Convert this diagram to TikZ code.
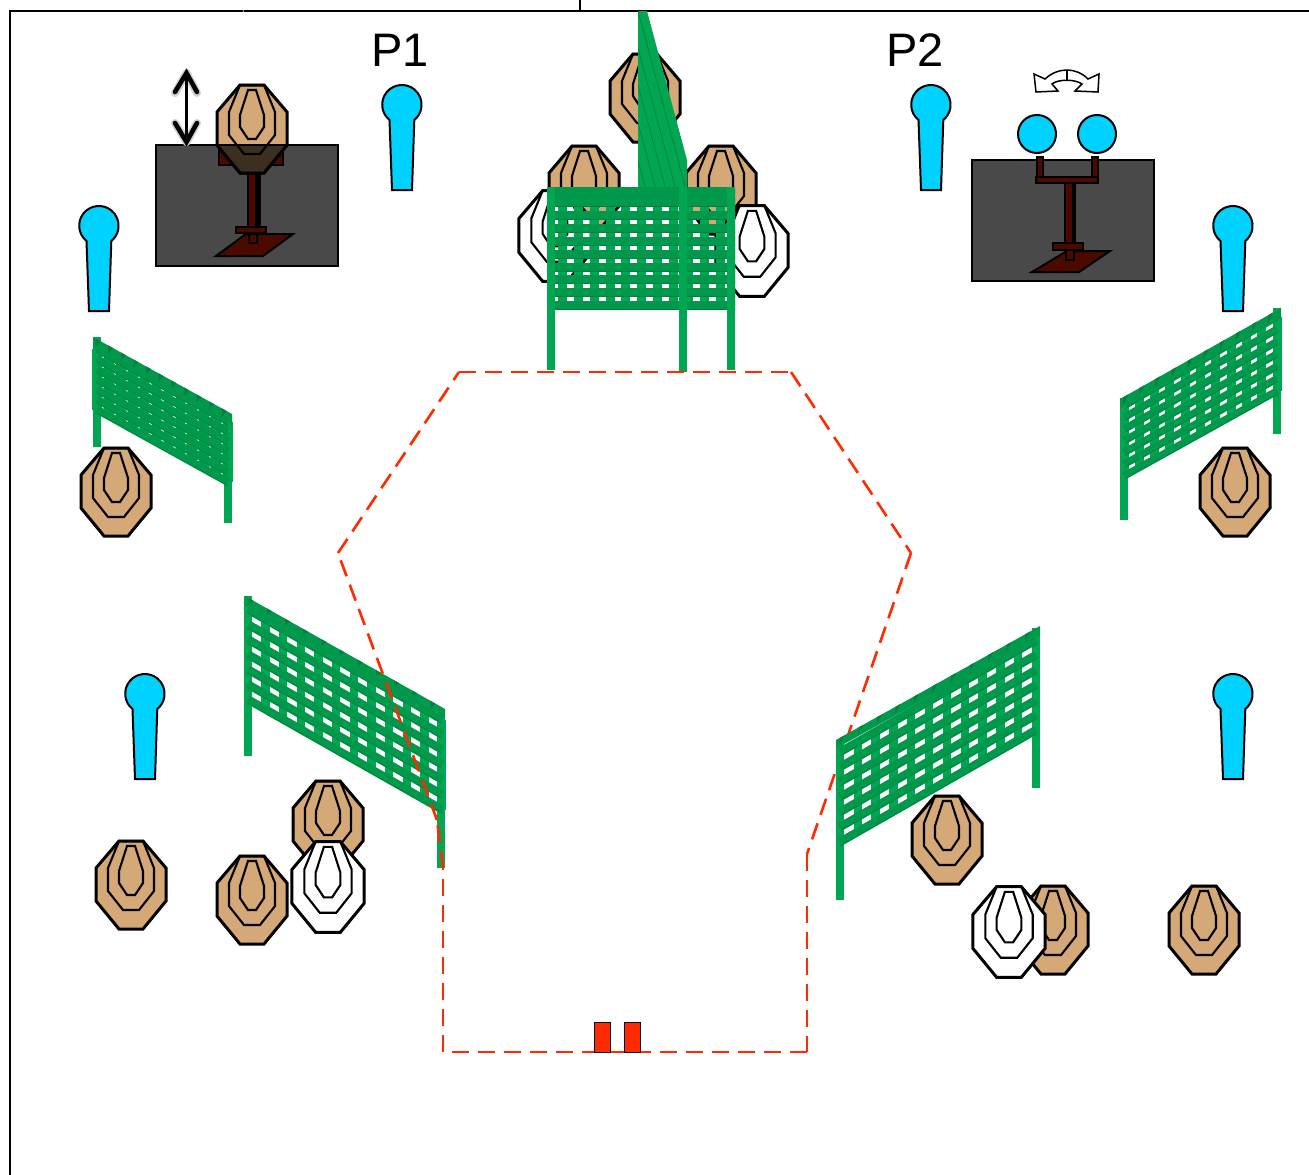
\documentclass[tikz,border=0pt]{standalone}
\usepackage{fontspec}
\setmainfont{Liberation Sans}
\usetikzlibrary{calc,arrows.meta}
\definecolor{tan1}{HTML}{D4A977}
\definecolor{cyan1}{HTML}{00D2FF}
\definecolor{fenceA}{HTML}{00A651}
\definecolor{fenceB}{HTML}{00984A}
\definecolor{fenceD}{HTML}{00813E}
\definecolor{dash1}{HTML}{FF2A00}
\definecolor{box1}{HTML}{494949}
\definecolor{stand1}{HTML}{4A0A00}
\tikzset{
  ring/.style={draw=black,line join=miter},
  popper/.style={draw=black,line width=2pt,fill=cyan1},
  standpart/.style={draw=black,line width=2pt,fill=stand1},
  hbar/.style={draw=fenceB,line cap=butt},
  vbar/.style={draw=fenceA,line cap=butt},
  leg/.style={draw=fenceA,line cap=butt,line width=8.5pt},
  zone/.style={draw=dash1,line width=2.6pt,dash pattern=on 17pt off 9pt},
}
% target: cx, cy, fill, scale
\newcommand{\targetpic}[4]{%
\begin{scope}[shift={(#1,#2)},x=#4pt,y=-#4pt]
\filldraw[ring,line width=3pt,fill=#3] (-12,-44)--(12,-44)--(35,-17)--(35,16)--(12,44)--(-12,44)--(-35,16)--(-35,-17)--cycle;
\draw[ring,line width=2.1pt] (-12,-44)--(12,-44)--(23,-17)--(23,6)--(8,25)--(-8,25)--(-23,6)--(-23,-17)--cycle;
\draw[ring,line width=2.1pt] (-4,-39)--(4,-39)--(12,-14)--(12,-2)--(4,10)--(-4,10)--(-12,-2)--(-12,-14)--cycle;
\end{scope}}
% popper: cx, top of head, bottom
\newcommand{\popperpic}[3]{%
\filldraw[popper] ({#1-12.5},{#2+35}) arc[start angle=129,end angle=411,radius=19.7] -- ({#1+10},#3) -- ({#1-10},#3) -- cycle;}
% fence: TL TR BL BR rows cols hbarwidth vbarwidth
\newcommand{\fencepic}[8]{%
\coordinate (fTL) at (#1); \coordinate (fTR) at (#2);
\coordinate (fBL) at (#3); \coordinate (fBR) at (#4);
\foreach \i in {0,...,#6}{
  \pgfmathsetmacro{\t}{\i/#6}
  \draw[vbar,line width=#8pt] ($(fTL)!\t!(fTR)$) -- ($(fBL)!\t!(fBR)$);}
\foreach \i in {0,...,#5}{
  \pgfmathsetmacro{\t}{\i/#5}
  \draw[hbar,line width=#7pt] ($(fTL)!\t!(fBL)$) -- ($(fTR)!\t!(fBR)$);
  \draw[draw=fenceD,line width=0.5pt,line cap=butt,transform canvas={yshift=-#7pt*0.45}] ($(fTL)!\t!(fBL)$) -- ($(fTR)!\t!(fBR)$);}
}
% top band of a slanted fence with small corner wedges: Ax Ay Bx By depth cols
\newcommand{\fencetop}[6]{%
\fill[fenceB] (#1,#2)--(#3,#4)--(#3,{#4+#5})--(#1,{#2+#5})--cycle;
\pgfmathsetmacro{\sl}{(#4-#2)/(#3-#1)}
\pgfmathtruncatemacro{\lastc}{#6-1}
\foreach \i in {0,...,\lastc}{
  \pgfmathsetmacro{\px}{#1+(\i+0.2)*(#3-#1)/#6}
  \pgfmathsetmacro{\py}{#2+(\i+0.2)*(#4-#2)/#6}
  \fill[fenceD] (\px,\py)--(\px,{\py+#5*0.8})--({\px+5},{\py+5*\sl})--cycle;}
}
\begin{document}
\begin{tikzpicture}[x=1pt,y=-1pt]
\useasboundingbox (0,0) rectangle (1309,1175);
% frame
\draw[black,line width=2.4pt] (10,1175)--(10,11)--(1309,11);
\draw[black,line width=1.8pt] (580,0)--(580,11);
\draw[black!40,line width=1pt] (243,10)--(243,12);
% labels
\node[font=\fontsize{47}{47}\selectfont,inner sep=0pt] (p1) at (400,50) {P1};
\node[font=\fontsize{47}{47}\selectfont,inner sep=0pt] (p2) at (915,50) {P2};
% poppers
\popperpic{402}{85}{190}
\popperpic{931}{85}{190}
\popperpic{99}{206}{311}
\popperpic{1233}{206}{311}
\popperpic{145}{674}{779}
\popperpic{1233}{674}{779}
% left box
\draw[black,line width=2.4pt,fill=box1] (156,145) rectangle (338,266);
\filldraw[standpart] (219,150) rectangle (283,165);
\filldraw[standpart] (216,256)--(263,256)--(293,234)--(246,234)--cycle;
\filldraw[standpart] (249,234) rectangle (257,243);
\filldraw[standpart] (236,227) rectangle (266,233);
\filldraw[standpart] (248,170) rectangle (260,227);
\draw[black,line width=3.5pt] (257,172)--(257,227);
\targetpic{252}{129}{tan1}{1}
\begin{scope}
\clip (156,145) rectangle (338,175);
\targetpic{252}{129}{black!72!tan1}{1}
\end{scope}
\draw[black,line width=2.4pt] (156,145)--(338,145);
% arrow
\coordinate (upA) at (186.5,73); \coordinate (dnA) at (186.5,142);
\draw[black!18,line width=8pt,line cap=round,line join=round] (175,93)--(upA)--(197,93);
\draw[black!18,line width=8pt,line cap=round,line join=round] (175,123)--(dnA)--(197,123);
\draw[black,line width=3.4pt] (upA)--(dnA);
\draw[black,line width=4.6pt,line cap=round,line join=miter] (175,92)--(upA)--(197,92);
\draw[black,line width=4.6pt,line cap=round,line join=miter] (175,123)--(dnA)--(197,123);
% right box
\draw[black,line width=2.4pt,fill=box1] (972,160) rectangle (1154,281);
\filldraw[standpart] (1032,272)--(1079,272)--(1110,251)--(1067,251)--cycle;
\filldraw[standpart] (1066,250) rectangle (1074,260);
\filldraw[standpart] (1053,243) rectangle (1083,250);
\filldraw[standpart] (1065,183) rectangle (1075,243);
\draw[black,line width=3pt] (1073,184)--(1073,243);
\filldraw[standpart] (1037,157) rectangle (1043,178);
\filldraw[standpart] (1092,157) rectangle (1098,178);
\filldraw[standpart] (1036,177) rectangle (1098,183);
\filldraw[popper] (1037,134) circle[radius=19];
\filldraw[popper] (1097,134) circle[radius=19];
% swivel arrow
\draw[black,line width=1.5pt,fill=white,line join=miter]
 (1034,74) -- (1045,79) .. controls (1058,67) and (1076,67) .. (1088,79) -- (1099,74) -- (1098,92) -- (1075,91) -- (1082,84)
 .. controls (1075,79) and (1058,79) .. (1052,84) -- (1058,91) -- (1036,92) -- cycle;
\draw[black,line width=1.5pt] (1067,70)--(1067,81);
% targets
\targetpic{645}{98}{tan1}{1}
\targetpic{584}{190}{tan1}{1}
\targetpic{721}{190}{tan1}{1}
\targetpic{555}{236}{white}{1.03}
\targetpic{752}{251}{white}{1.03}
\targetpic{116}{492}{tan1}{1}
\targetpic{1235}{492}{tan1}{1}
\targetpic{328}{825}{tan1}{1}
\targetpic{131}{885}{tan1}{1}
\targetpic{252}{900}{tan1}{1}
\targetpic{328}{887}{white}{1.03}
\targetpic{947}{840}{tan1}{1}
\targetpic{1053}{930}{tan1}{1}
\targetpic{1009}{932}{white}{1.03}
\targetpic{1204}{930}{tan1}{1}
% top side-on fence
\begin{scope}
\clip (638,11)--(647,11)--(687,160)--(687,190)--(638,190)--cycle;
\fill[fenceA] (630,5) rectangle (690,195);
\foreach \s in {-50,-40,-30,-20,-10,0,10,20,30}{
  \draw[fenceD,line width=0.7pt] ({638+\s},11)--({638+\s+48},190);}
\end{scope}
% front fence
\begin{scope}
\clip (547,187) rectangle (735,310);
\fencepic{547,189.7}{736,189.7}{547,305.5}{736,305.5}{9}{12}{8.8}{9}
\fill[fenceB] (547,187) rectangle (735,199);
\end{scope}
\draw[leg] (551,187)--(551,370);
\draw[leg] (683,187)--(683,372);
\draw[leg] (731,187)--(731,370);
% upper left fence
\draw[leg] (97,337)--(97,447);
\draw[leg] (228,414)--(228,523);
\fencepic{97,349}{228,421.5}{97,409.5}{228,482}{6}{11}{8}{9.6}
\fencetop{93}{337}{232}{414}{10}{11}
% upper right fence
\draw[leg] (1124,398)--(1124,520);
\draw[leg] (1277,308)--(1277,434);
\fencepic{1124,405.8}{1277,316.8}{1124,476}{1277,391}{6}{10}{7.4}{9}
\fencetop{1120}{399}{1281}{308}{10}{10}
% lower left fence
\draw[leg] (248,596)--(248,756);
\draw[leg] (441,709)--(441,868);
\fencepic{248,609.5}{442,719.5}{248,699.5}{442,809.5}{6}{11}{8.4}{8.4}
\fencetop{245}{596}{445}{709}{8.5}{11}
% dashed zone
\coordinate (z1) at (459,372); \coordinate (z2) at (791,372); \coordinate (z3) at (911,553);
\coordinate (z4) at (807,854); \coordinate (z5) at (807,1052); \coordinate (z6) at (443,1052);
\coordinate (z7) at (443,868); \coordinate (z8) at (437,820); \coordinate (z9) at (338,553);
\foreach \a/\b in {z1/z2,z2/z3,z3/z4,z4/z5,z5/z6,z6/z7,z7/z8,z8/z9,z9/z1}{
  \draw[zone] (\a)--(\b);}
% lower right fence (in front of the zone line)
\draw[leg] (840,740)--(840,900);
\draw[leg] (1036,628)--(1036,788);
\fencepic{840,752}{1036,640}{840,842}{1036,730}{6}{11}{8.4}{8.4}
\fencetop{836}{740}{1040}{626}{8.5}{11}
% start marks
\draw[black,line width=1pt,fill=dash1] (594,1022) rectangle (610,1052);
\draw[black,line width=1pt,fill=dash1] (624,1022) rectangle (640,1052);
\end{tikzpicture}
\end{document}
